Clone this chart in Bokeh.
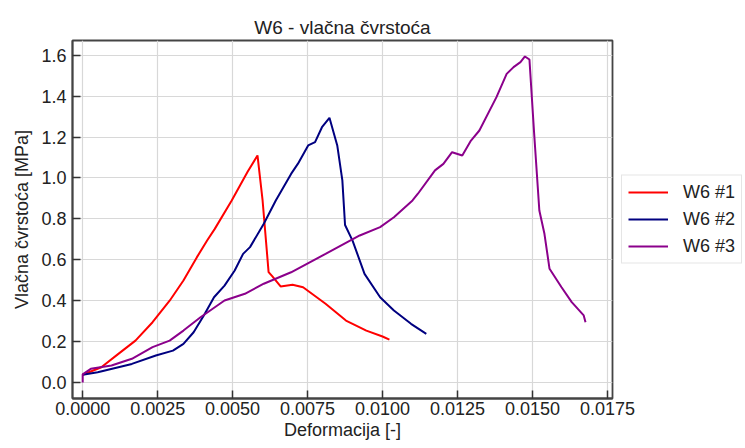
from bokeh.plotting import figure
from bokeh.models import Range1d, FixedTicker, NumeralTickFormatter, Legend, LegendItem
from bokeh.embed import file_html
from bokeh.resources import INLINE

red_x = [0.0, 0.00062, 0.00119, 0.00176, 0.00233, 0.0029, 0.00336, 0.00381, 0.00415, 0.0044, 0.00497, 0.0055, 0.00583, 0.0060, 0.0062, 0.00632, 0.0066, 0.0070, 0.00735, 0.0081, 0.00878, 0.00946, 0.0100, 0.01023]
red_y = [0.038, 0.075, 0.14, 0.205, 0.295, 0.40, 0.499, 0.613, 0.694, 0.75, 0.89, 1.03, 1.11, 0.89, 0.54, 0.52, 0.47, 0.478, 0.466, 0.385, 0.303, 0.254, 0.225, 0.21]

blue_x = [0.0, 0.0005, 0.00164, 0.00244, 0.00301, 0.00336, 0.0037, 0.00404, 0.00438, 0.00473, 0.00507, 0.00535, 0.00558, 0.00604, 0.00644, 0.00695, 0.00718, 0.00752, 0.00775, 0.00798, 0.00823, 0.00849, 0.00866, 0.00875, 0.009, 0.0094, 0.00992, 0.01038, 0.01095, 0.01146]
blue_y = [0.038, 0.05, 0.091, 0.132, 0.156, 0.189, 0.246, 0.328, 0.417, 0.474, 0.548, 0.629, 0.662, 0.776, 0.89, 1.02, 1.07, 1.159, 1.175, 1.248, 1.294, 1.159, 0.988, 0.77, 0.694, 0.531, 0.417, 0.352, 0.287, 0.238]

purple_x = [0.0, 0.0, 0.00027, 0.00096, 0.00164, 0.00233, 0.0029, 0.00336, 0.00393, 0.00473, 0.00541, 0.00604, 0.00695, 0.0081, 0.00924, 0.00992, 0.01038, 0.011, 0.01118, 0.01175, 0.01203, 0.01232, 0.01266, 0.01295, 0.01323, 0.0138, 0.01414, 0.01437, 0.0146, 0.01475, 0.0149, 0.01505, 0.01523, 0.0154, 0.01557, 0.01597, 0.01631, 0.01671, 0.01677]
purple_y = [0.0, 0.04, 0.067, 0.083, 0.116, 0.173, 0.205, 0.254, 0.319, 0.401, 0.434, 0.483, 0.539, 0.629, 0.719, 0.76, 0.808, 0.89, 0.923, 1.037, 1.069, 1.126, 1.11, 1.183, 1.232, 1.395, 1.509, 1.542, 1.566, 1.594, 1.579, 1.232, 0.841, 0.727, 0.556, 0.466, 0.393, 0.328, 0.295]

series_names = ["W6 #1", "W6 #2", "W6 #3"]
x_ticks = [0.0, 0.0025, 0.005, 0.0075, 0.01, 0.0125, 0.015, 0.0175]
y_ticks = [0.0, 0.2, 0.4, 0.6, 0.8, 1.0, 1.2, 1.4, 1.6]

FONT = "Liberation Sans"

p = figure(frame_width=540, frame_height=358, output_backend="svg", toolbar_location=None,
           x_range=Range1d(-0.00034, 0.01767), y_range=Range1d(-0.078, 1.672),
           title="W6 - vlačna čvrstoća",
           min_border_left=72, min_border_right=0, min_border_top=40, min_border_bottom=50)

p.title.align = "center"
p.title.text_font = FONT
p.title.text_font_size = "19px"
p.title.text_font_style = "normal"
p.title.text_color = "#222222"
p.title.offset = 0
p.title.standoff = 6

p.outline_line_color = "#444444"
p.outline_line_width = 1.8

for ax in (p.xaxis[0], p.yaxis[0]):
    ax.major_tick_in = 8
    ax.major_tick_out = 0
    ax.minor_tick_in = 0
    ax.minor_tick_out = 0
    ax.axis_line_color = "#444444"
    ax.axis_line_width = 1.8
    ax.major_tick_line_color = "#333333"
    ax.major_tick_line_width = 1.5
    ax.major_label_text_font = FONT
    ax.major_label_text_font_size = "18px"
    ax.major_label_text_color = "#222222"
    ax.axis_label_text_font = FONT
    ax.axis_label_text_font_size = "18px"
    ax.axis_label_text_font_style = "normal"
    ax.axis_label_text_color = "#222222"

p.xaxis.ticker = FixedTicker(ticks=x_ticks)
p.yaxis.ticker = FixedTicker(ticks=y_ticks)
p.xaxis.formatter = NumeralTickFormatter(format="0.0000")
p.yaxis.formatter = NumeralTickFormatter(format="0.0")
p.xaxis.axis_label = "Deformacija [-]"
p.yaxis.axis_label = "Vlačna čvrstoća [MPa]"
p.xaxis.major_label_standoff = 3
p.yaxis.major_label_standoff = 6
p.xaxis.axis_label_standoff = 2
p.yaxis.axis_label_standoff = 6

p.xgrid.grid_line_color = "#d8d8d8"
p.ygrid.grid_line_color = "#d8d8d8"
p.xgrid.grid_line_width = 1.2
p.ygrid.grid_line_width = 1.2

r1 = p.line(red_x, red_y, line_color="#ff0000", line_width=2)
r2 = p.line(blue_x, blue_y, line_color="#000080", line_width=2)
r3 = p.line(purple_x, purple_y, line_color="#8b008b", line_width=2)

legend = Legend(items=[LegendItem(label=series_names[0], renderers=[r1]),
                       LegendItem(label=series_names[1], renderers=[r2]),
                       LegendItem(label=series_names[2], renderers=[r3])],
                location="center_left")
legend.label_text_font = FONT
legend.label_text_font_size = "18px"
legend.label_text_color = "#222222"
legend.glyph_width = 40
legend.glyph_height = 21
legend.label_height = 21
legend.spacing = 6
legend.padding = 6
legend.margin = 9
legend.label_standoff = 15
legend.border_line_color = "#cccccc"
legend.border_line_width = 1
p.add_layout(legend, "right")

open("out.html", "w").write(file_html(p, INLINE))
